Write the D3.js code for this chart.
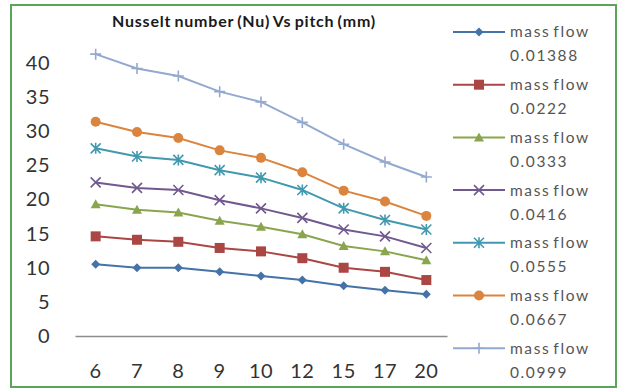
<!DOCTYPE html>
<html>
<head>
<meta charset="utf-8">
<script src="https://cdn.jsdelivr.net/npm/d3@7"></script>
<style>
  html, body { margin: 0; padding: 0; background: #fff; }
  svg { display: block; }
</style>
</head>
<body>
<svg id="chart" width="620" height="389"></svg>
<script>
// Pitch values (mm) along the category axis
const pitches = ["6", "7", "8", "9", "10", "12", "15", "17", "20"];

// Nusselt number for each mass flow rate
const mf01388 = [10.5, 10.0, 10.0, 9.4, 8.8, 8.2, 7.35, 6.7, 6.1];
const mf0222  = [14.6, 14.1, 13.8, 12.9, 12.4, 11.4, 10.0, 9.4, 8.2];
const mf0333  = [19.3, 18.5, 18.1, 16.9, 16.0, 14.9, 13.2, 12.4, 11.1];
const mf0416  = [22.5, 21.7, 21.4, 19.9, 18.7, 17.3, 15.6, 14.6, 12.9];
const mf0555  = [27.5, 26.3, 25.8, 24.3, 23.2, 21.4, 18.7, 17.0, 15.6];
const mf0667  = [31.4, 29.9, 29.0, 27.2, 26.1, 24.0, 21.3, 19.7, 17.6];
const mf0999  = [41.3, 39.2, 38.1, 35.8, 34.3, 31.3, 28.1, 25.5, 23.3];

const seriesNames = ["0.01388", "0.0222", "0.0333", "0.0416", "0.0555", "0.0667", "0.0999"];
const seriesValues = [mf01388, mf0222, mf0333, mf0416, mf0555, mf0667, mf0999];
const yTicks = [0, 5, 10, 15, 20, 25, 30, 35, 40];

const colors = ["#4572A7", "#AA4643", "#89A54E", "#71588F", "#4198AF", "#DB843D", "#93A9CF"];
const markers = ["diamond", "square", "triangle", "x", "star", "circle", "plus"];

const FONT = "Lato, 'Open Sans', sans-serif";
const svg = d3.select("#chart");

// Chart frame
svg.append("rect")
  .attr("x", 11).attr("y", 5)
  .attr("width", 605).attr("height", 382)
  .attr("fill", "#fff")
  .attr("stroke", "#5BA55B")
  .attr("stroke-width", 2);

const x = d3.scaleBand().domain(pitches).range([75, 447]).padding(0);
const y = d3.scaleLinear().domain([0, 40]).range([336, 63]);

// Title
svg.append("text")
  .attr("x", 244).attr("y", 27)
  .attr("text-anchor", "middle")
  .attr("font-family", FONT)
  .attr("font-weight", "bold")
  .attr("font-size", 16)
  .attr("letter-spacing", 0.8)
  .attr("word-spacing", -1.5)
  .attr("fill", "#1a1a1a")
  .text("Nusselt number (Nu) Vs pitch (mm)");

// Y axis: labels only
const yAxis = d3.axisLeft(y).tickValues(yTicks).tickSize(0).tickPadding(0);
const gy = svg.append("g").attr("transform", "translate(50,0)").call(yAxis);
gy.select(".domain").remove();
gy.selectAll("text")
  .attr("font-family", FONT)
  .attr("font-size", 20)
  .attr("letter-spacing", 0.5)
  .attr("fill", "#333");

// X axis: baseline at zero with category labels
const xAxis = d3.axisBottom(x).tickSize(0).tickPadding(28);
const gx = svg.append("g").attr("transform", `translate(0,${y(0)})`).call(xAxis);
gx.select(".domain").attr("stroke", "#8c8c8c").attr("stroke-width", 1.3);
gx.selectAll("text")
  .attr("font-family", FONT)
  .attr("font-size", 20)
  .attr("letter-spacing", 0.5)
  .attr("fill", "#333");

// Marker shapes
function markerPath(kind, s) {
  switch (kind) {
    case "diamond": return `M0,${-s}L${s},0L0,${s}L${-s},0Z`;
    case "square": return `M${-s},${-s}H${s}V${s}H${-s}Z`;
    case "triangle": return `M0,${-s}L${s},${s * 0.8}L${-s},${s * 0.8}Z`;
    case "circle": return d3.symbol(d3.symbolCircle, Math.PI * s * s)();
    case "x": return `M${-s},${-s}L${s},${s}M${-s},${s}L${s},${-s}`;
    case "star": return `M${-s},${-s}L${s},${s}M${-s},${s}L${s},${-s}M0,${-s * 1.1}V${s * 1.1}`;
    case "plus": return `M${-s},0H${s}M0,${-s}V${s}`;
  }
}
const markerSize = { diamond: 4.5, square: 5, triangle: 5, circle: 5, x: 5, star: 5, plus: 5.5 };
const filled = k => ["diamond", "square", "triangle", "circle"].includes(k);

function drawMarker(g, kind, color) {
  const p = g.append("path").attr("d", markerPath(kind, markerSize[kind]));
  if (filled(kind)) p.attr("fill", color).attr("stroke", "none");
  else p.attr("fill", "none").attr("stroke", color).attr("stroke-width", 1.6);
}

const line = d3.line()
  .x((d, i) => x(pitches[i]) + x.bandwidth() / 2)
  .y(d => y(d));

seriesValues.forEach((vals, si) => {
  const c = colors[si];
  const g = svg.append("g");
  g.append("path")
    .datum(vals)
    .attr("d", line)
    .attr("fill", "none")
    .attr("stroke", c)
    .attr("stroke-width", 2);
  vals.forEach((v, i) => {
    const mg = g.append("g")
      .attr("transform", `translate(${x(pitches[i]) + x.bandwidth() / 2},${y(v)})`);
    drawMarker(mg, markers[si], c);
  });
});

// Legend
const legend = svg.append("g");
seriesNames.forEach((name, i) => {
  const cy = 32 + i * 52.7;
  const lg = legend.append("g").attr("transform", `translate(0,${cy})`);
  lg.append("line")
    .attr("x1", 453).attr("x2", 505)
    .attr("stroke", colors[i]).attr("stroke-width", 2);
  const mg = lg.append("g").attr("transform", "translate(479,0)");
  drawMarker(mg, markers[i], colors[i]);
  [["mass flow", 0], [name, 24]].forEach(([t, dy]) => {
    lg.append("text")
      .attr("x", 510).attr("y", dy).attr("dy", "0.35em")
      .attr("font-family", FONT)
      .attr("font-size", 15.5)
      .attr("letter-spacing", 1.6)
      .attr("word-spacing", -2.5)
      .attr("fill", "#555")
      .text(t);
  });
});
</script>
</body>
</html>
